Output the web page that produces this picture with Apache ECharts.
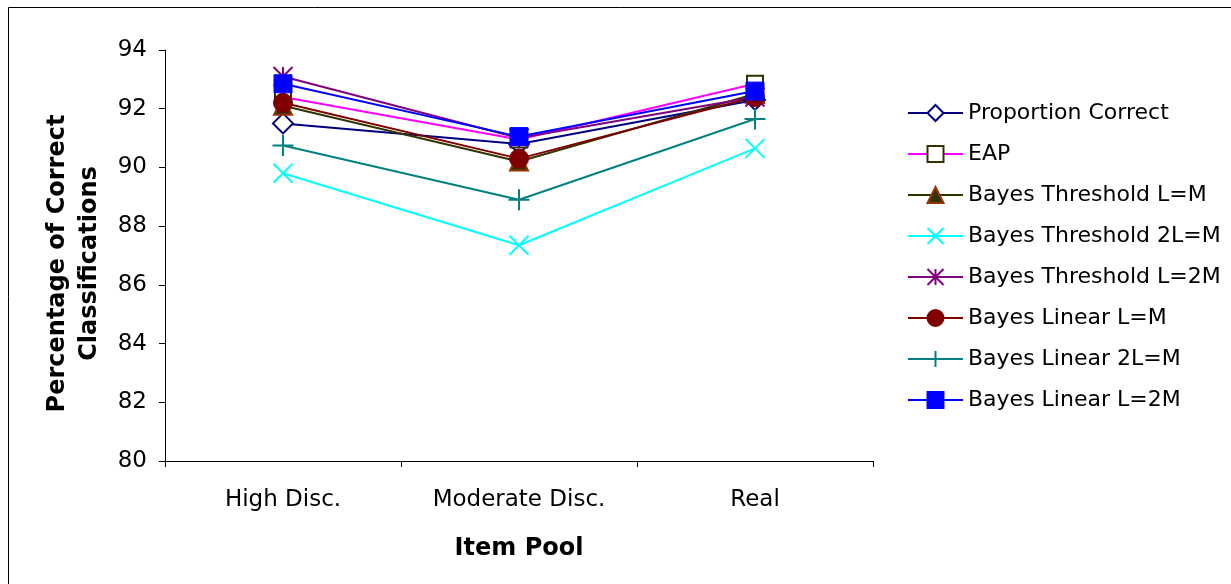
<!DOCTYPE html>
<html><head><meta charset="utf-8">
<script src="https://cdn.jsdelivr.net/npm/echarts@6/dist/echarts.min.js"></script>
<style>html,body{margin:0;padding:0;background:#fff}#c{width:1231px;height:584px}</style>
</head><body><div id="c"></div>
<script>
const categories = ['High Disc.', 'Moderate Disc.', 'Real'];
const seriesNames = ['Proportion Correct', 'EAP', 'Bayes Threshold L=M', 'Bayes Threshold 2L=M', 'Bayes Threshold L=2M', 'Bayes Linear L=M', 'Bayes Linear 2L=M', 'Bayes Linear L=2M'];
const proportionCorrect = [91.5, 90.8, 92.3];
const eap = [92.4, 90.95, 92.85];
const thresholdLM = [92.1, 90.2, 92.5];
const threshold2LM = [89.8, 87.35, 90.65];
const thresholdL2M = [93.1, 91.0, 92.4];
const linearLM = [92.2, 90.3, 92.4];
const linear2LM = [90.75, 88.9, 91.65];
const linearL2M = [92.85, 91.05, 92.6];
const yTicks = [80, 82, 84, 86, 88, 90, 92, 94];

const X = 'path://M0,0L10,10M10,0L0,10';
const AST = 'path://M0,0L10,10M10,0L0,10M5,0L5,10';
const PLUS = 'path://M5,0L5,10M0,5L10,5';
const FONT = 'DejaVu Sans, Liberation Sans, sans-serif';

function mk(name, data, lineColor, symbol, size, fill, border, bw) {
  return {
    name, type: 'line', data, symbol, symbolSize: size,
    lineStyle: { color: lineColor, width: 2 },
    itemStyle: { color: fill, borderColor: border, borderWidth: bw },
    emphasis: { disabled: true }, animation: false
  };
}
const series = [
  mk(seriesNames[0], proportionCorrect, '#000080', 'diamond', 20, '#ffffff', '#000080', 2),
  mk(seriesNames[1], eap, '#FF00FF', 'rect', 16, '#ffffff', '#333300', 2),
  mk(seriesNames[2], thresholdLM, '#333300', 'triangle', 18, '#333300', '#993300', 2),
  mk(seriesNames[3], threshold2LM, '#00FFFF', X, 19, 'rgba(0,0,0,0)', '#00FFFF', 2),
  mk(seriesNames[4], thresholdL2M, '#800080', AST, 19, 'rgba(0,0,0,0)', '#800080', 2),
  mk(seriesNames[5], linearLM, '#800000', 'circle', 19, '#800000', '#800000', 1),
  mk(seriesNames[6], linear2LM, '#008080', PLUS, 21, 'rgba(0,0,0,0)', '#008080', 2),
  mk(seriesNames[7], linearL2M, '#0000FF', 'rect', 18, '#0000FF', '#0000FF', 1)
];

const chart = echarts.init(document.getElementById('c'), null, { renderer: 'canvas' });
chart.setOption({
  backgroundColor: '#ffffff',
  animation: false,
  textStyle: { fontFamily: FONT },
  graphic: [{ type: 'rect', shape: { x: 8.5, y: 7.5, width: 1240, height: 600 }, style: { fill: 'none', stroke: '#000', lineWidth: 1 }, silent: true }],
  grid: { left: 165, right: 358, top: 50, bottom: 123 },
  legend: {
    orient: 'vertical', left: 907, top: 100, padding: 0, itemWidth: 55, itemHeight: 20, itemGap: 15,
    data: seriesNames,
    textStyle: { fontSize: 22, lineHeight: 26, color: '#000', fontFamily: FONT }
  },
  xAxis: {
    type: 'category', data: categories, boundaryGap: true,
    name: 'Item Pool', nameLocation: 'middle', nameGap: 76,
    nameTextStyle: { fontSize: 24, fontWeight: 'bold', color: '#000', fontFamily: FONT },
    axisLine: { lineStyle: { color: '#000', width: 1 } },
    axisTick: { show: true, length: 6, alignWithLabel: false, lineStyle: { color: '#000' } },
    axisLabel: { fontSize: 23, color: '#000', margin: 28, fontFamily: FONT },
    splitLine: { show: false }
  },
  yAxis: {
    type: 'value', min: 80, max: 94, interval: 2,
    name: 'Percentage of Correct\nClassifications', nameLocation: 'middle', nameGap: 59, nameRotate: 90,
    nameTextStyle: { fontSize: 24, fontWeight: 'bold', color: '#000', lineHeight: 32, fontFamily: FONT, padding: [0, 16, 0, 0] },
    axisLine: { show: true, lineStyle: { color: '#000', width: 1 } },
    axisTick: { show: true, length: 6, inside: false, lineStyle: { color: '#000' } },
    axisLabel: { fontSize: 23, color: '#000', margin: 18, fontFamily: FONT, formatter: v => yTicks.includes(v) ? String(v) : '' },
    splitLine: { show: false }
  },
  series
});
</script>
</body></html>
